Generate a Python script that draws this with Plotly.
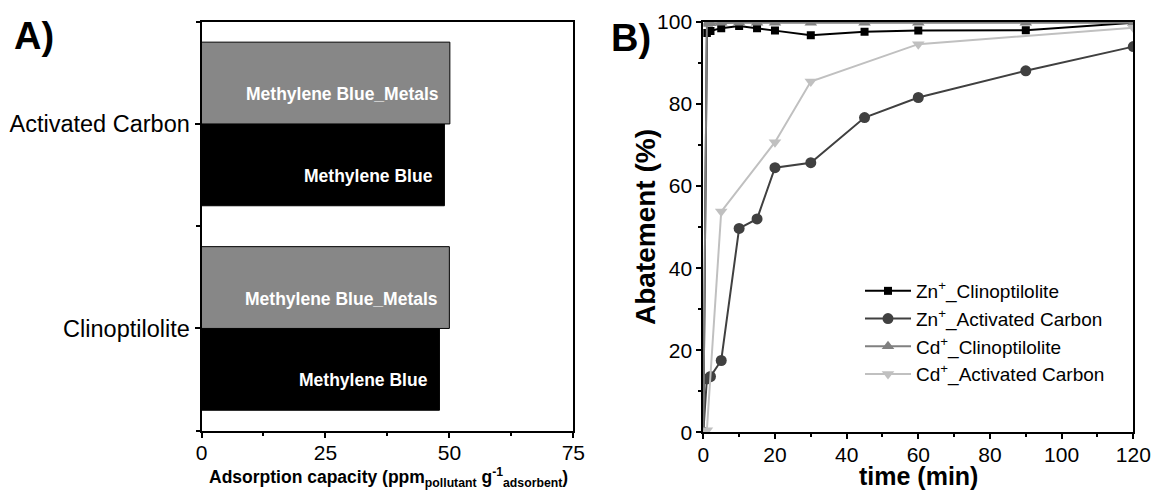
import plotly.graph_objects as go

# ---------------- Panel A data ----------------
categories = ["Clinoptilolite", "Activated Carbon"]
mb_values = [48.0, 49.0]            # Methylene Blue
mb_metals_values = [50.0, 50.1]     # Methylene Blue_Metals
series_names_a = ["Methylene Blue", "Methylene Blue_Metals"]
x_ticks_a = [0, 25, 50, 75]

# ---------------- Panel B data ----------------
t_zn_clino = [0, 1, 2, 5, 10, 15, 20, 30, 45, 60, 90, 120]
v_zn_clino = [0, 97.3, 97.8, 98.5, 99.0, 98.5, 97.9, 96.8, 97.6, 97.9, 98.0, 99.8]
t_zn_ac = [0, 1, 2, 5, 10, 15, 20, 30, 45, 60, 90, 120]
v_zn_ac = [0, 13.0, 13.6, 17.5, 49.7, 52.0, 64.5, 65.7, 76.7, 81.6, 88.1, 94.0]
t_cd_clino = [0, 1, 2, 5, 10, 15, 20, 30, 45, 60, 90, 120]
v_cd_clino = [0, 99.5, 99.7, 99.8, 99.8, 99.8, 99.8, 99.8, 99.8, 99.8, 99.8, 99.8]
t_cd_ac = [0, 1, 5, 20, 30, 60, 120]
v_cd_ac = [0, 0.5, 53.8, 70.7, 85.5, 94.6, 98.6]
names_b = ["Zn<sup>+</sup>_Clinoptilolite", "Zn<sup>+</sup>_Activated Carbon",
           "Cd<sup>+</sup>_Clinoptilolite", "Cd<sup>+</sup>_Activated Carbon"]

FONT = "Liberation Sans, Arial, sans-serif"
W, H = 1155, 492

fig = go.Figure()

ypos = list(range(len(categories)))

fig.add_trace(go.Bar(
    x=mb_values, y=ypos, orientation="h", name=series_names_a[0],
    marker=dict(color="#000000", line=dict(color="#000000", width=1)),
    xaxis="x", yaxis="y", showlegend=False, hoverinfo="skip"))
fig.add_trace(go.Bar(
    x=mb_metals_values, y=ypos, orientation="h", name=series_names_a[1],
    marker=dict(color="#878787", line=dict(color="#000000", width=1)),
    xaxis="x", yaxis="y", showlegend=False, hoverinfo="skip"))

annotations = []
for i, yy in enumerate(ypos):
    annotations.append(dict(x=mb_values[i], y=yy - 0.2, xref="x", yref="y",
                            text=series_names_a[0], showarrow=False,
                            xanchor="right", yanchor="middle", xshift=-9, yshift=-11,
                            font=dict(family=FONT, size=17.5, color="white", weight="bold")))
    annotations.append(dict(x=mb_metals_values[i], y=yy + 0.2, xref="x", yref="y",
                            text=series_names_a[1], showarrow=False,
                            xanchor="right", yanchor="middle", xshift=-9, yshift=-11,
                            font=dict(family=FONT, size=17.5, color="white", weight="bold")))

# Panel B traces
specs = [
    (t_zn_clino, v_zn_clino, "#000000", "square", 8),
    (t_zn_ac, v_zn_ac, "#404040", "circle", 11),
    (t_cd_clino, v_cd_clino, "#808080", "triangle-up", 11),
    (t_cd_ac, v_cd_ac, "#c0c0c0", "triangle-down", 11),
]
for (tx, vy, col, sym, sz), nm in zip(specs, names_b):
    fig.add_trace(go.Scatter(
        x=tx, y=vy, mode="lines+markers", name=nm,
        line=dict(color=col, width=2),
        marker=dict(color=col, symbol=sym, size=sz),
        xaxis="x2", yaxis="y2", cliponaxis=True))

def px_x(p):
    return p / W

def px_y(p):
    return 1 - p / H

axis_common = dict(showline=True, linecolor="black", linewidth=2, mirror=True,
                   ticks="outside", tickcolor="black", tickwidth=1.5, ticklen=5,
                   showgrid=False, zeroline=False, automargin=False,
                   tickfont=dict(family=FONT, size=21, color="black"))

fig.update_layout(
    width=W, height=H, template="none",
    margin=dict(l=0, r=0, t=0, b=0),
    paper_bgcolor="white", plot_bgcolor="white",
    barmode="group", bargap=0.2, bargroupgap=0,
    xaxis=dict(domain=[px_x(201.5), px_x(573.3)], anchor="y", range=[0, 75],
               tickvals=x_ticks_a,
               minor=dict(ticks="outside", tickvals=[12.5, 37.5, 62.5], ticklen=3,
                          tickcolor="black", tickwidth=1.5),
               **axis_common),
    yaxis=dict(domain=[px_y(430.7), px_y(21.7)], anchor="x", range=[-0.5, 1.5],
               tickvals=ypos, ticktext=categories,
               minor=dict(ticks="outside", tickvals=[-0.5, 0.5, 1.5], ticklen=4,
                          tickcolor="black", tickwidth=1.5),
               **{**axis_common, "tickfont": dict(family=FONT, size=23.5, color="black")}),
    xaxis2=dict(domain=[px_x(703.3), px_x(1133.3)], anchor="y2", range=[0, 120],
                dtick=20, tick0=0,
                minor=dict(ticks="outside", dtick=10, ticklen=3,
                           tickcolor="black", tickwidth=1.5),
                **axis_common),
    yaxis2=dict(domain=[px_y(432.3), px_y(22)], anchor="x2", range=[0, 100],
                dtick=20, tick0=0,
                minor=dict(ticks="outside", dtick=10, ticklen=3,
                           tickcolor="black", tickwidth=1.5),
                **axis_common),
    legend=dict(x=px_x(860), y=px_y(272), xanchor="left", yanchor="top",
                bgcolor="rgba(0,0,0,0)", borderwidth=0,
                font=dict(family=FONT, size=19, color="black"),
                tracegroupgap=0, itemwidth=46),
    annotations=annotations + [
        dict(x=px_x(12), y=px_y(36), xref="paper", yref="paper", text="A)",
             showarrow=False, xanchor="left", yanchor="middle",
             font=dict(family=FONT, size=38, color="black", weight="bold")),
        dict(x=px_x(609), y=px_y(38), xref="paper", yref="paper", text="B)",
             showarrow=False, xanchor="left", yanchor="middle",
             font=dict(family=FONT, size=38, color="black", weight="bold")),
        # axis titles
        dict(x=px_x(388), y=px_y(477), xref="paper", yref="paper",
             text="Adsorption capacity (ppm<sub>pollutant</sub> g<sup>-1</sup><sub>adsorbent</sub>)",
             showarrow=False, xanchor="center", yanchor="middle",
             font=dict(family=FONT, size=17.5, color="black", weight="bold")),
        dict(x=px_x(918), y=px_y(476), xref="paper", yref="paper", text="time (min)",
             showarrow=False, xanchor="center", yanchor="middle",
             font=dict(family=FONT, size=25, color="black", weight="bold")),
        dict(x=px_x(645), y=px_y(227), xref="paper", yref="paper", text="Abatement (%)",
             showarrow=False, xanchor="center", yanchor="middle", textangle=-90,
             font=dict(family=FONT, size=28, color="black", weight="bold")),
    ],
)

try:
    fig.update_xaxes(ticklabelstandoff=-3)
except Exception:
    pass

fig.write_html("out.html", config={"displayModeBar": False},
               post_script="document.body.style.margin='0';document.body.style.overflow='hidden';")
